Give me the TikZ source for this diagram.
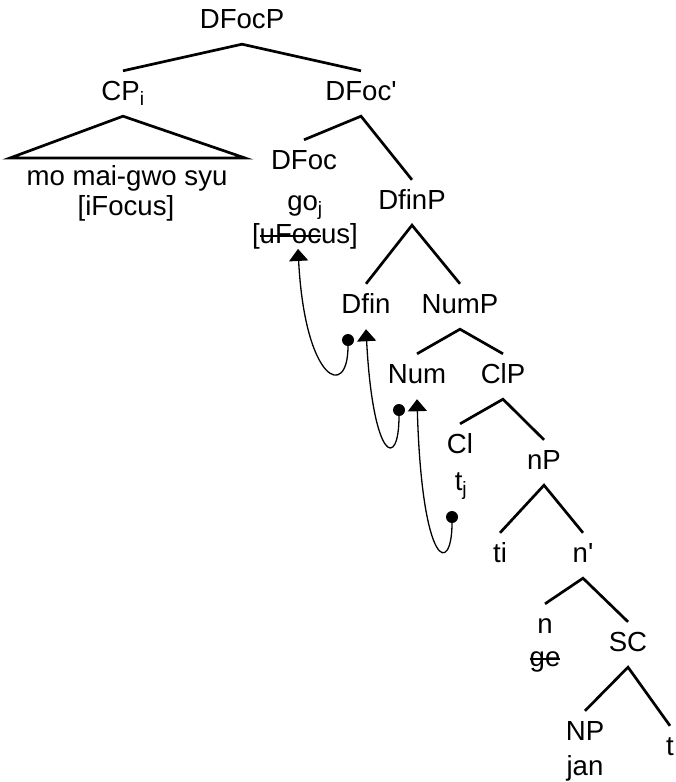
\documentclass[tikz,border=0pt]{standalone}
\usepackage{fontspec}
\newfontfamily\treefont{Liberation Sans}
\usetikzlibrary{arrows.meta,positioning}
% struck-out feature/word
\newcommand{\struck}[1]{\setbox0=\hbox{#1}\rlap{\raisebox{6.5pt}{\rule{\wd0}{1.8pt}}}\box0}
\tikzset{
    cat/.style={
        anchor=base,
        inner sep=0pt,
        text height=29pt,
        text depth=16pt
    },
    lex/.style={
        anchor=base,
        inner sep=0pt
    },
    branch/.style={
        line width=2.7pt,
        line join=miter
    },
    move/.style={
        -{Triangle[length=12pt,width=19pt]},
        line width=1.3pt
    },
    dot/.style={
        circle,
        fill,
        inner sep=0pt,
        minimum size=12pt
    }
}

\begin{document}
\begin{tikzpicture}[x=1pt, y=-1pt, font=\treefont\fontsize{27.6}{32}\selectfont]
\useasboundingbox (0,0) rectangle (675,782);

\node[cat] (dfocp) at (242,28) {DFocP};
\node[cat] (cp) at (123,100) {CP\textsubscript{i}};
\node[cat] (dfocbar) at (361,100) {DFoc'};
\node[lex] (mo) at (127,185) {mo mai-gwo syu};
\node[lex] (ifocus) at (126,215) {[iFocus]};
\node[cat] (dfoc) at (304,169) {DFoc};
\node[lex] (go) at (305,210) {go\textsubscript{j}};
\node[lex] (ufocus) at (305,243) {[\struck{uFoc}us]};
\node[cat] (dfinp) at (412,209) {DfinP};
\node[cat] (dfin) at (366,313) {Dfin};
\node[cat] (nump) at (460,313) {NumP};
\node[cat] (num) at (417,383) {Num};
\node[cat] (clp) at (503,383) {ClP};
\node[cat] (cl) at (460,453) {Cl};
\node[lex] (tj) at (461,490) {t\textsubscript{j}};
\node[cat] (littlenp) at (544,469) {nP};
\node[cat] (ti) at (500,562) {ti};
\node[cat] (nbar) at (583,562) {n'};
\node[cat] (n) at (545,633) {n};
\node[lex] (ge) at (545,666) {\struck{ge}};
\node[cat] (sc) at (628,651) {SC};
\node[cat] (nphrase) at (585,740) {NP};
\node[lex] (jan) at (585,775) {jan};
\node[cat] (t) at (670,755) {t};

% branches
\draw[branch] (cp.north) -- (dfocp.south) -- (dfocbar.north);
\draw[branch] (dfoc.north) -- (dfocbar.south) -- (dfinp.north);
\draw[branch] (dfin.north) -- (dfinp.south) -- (nump.north);
\draw[branch] (num.north) -- (nump.south) -- (clp.north);
\draw[branch] (cl.north) -- (clp.south) -- (littlenp.north);
\draw[branch] (ti.north) -- (littlenp.south) -- (nbar.north);
\draw[branch] (n.north) -- (nbar.south) -- (sc.north);
\draw[branch] (nphrase.north) -- (sc.south) -- (t.north);

% roof over CP
\coordinate (roofl) at (10,158);
\coordinate (roofr) at (245,158);
\draw[branch] (cp.south) -- (roofl) -- (roofr) -- cycle;

% movement
\node[dot] (d1) at (348,340) {};
\node[dot] (d2) at (399,410) {};
\node[dot] (d3) at (452,517) {};
\draw[move] (d1) .. controls +(0,60) and +(7,134) .. ([xshift=-7pt]ufocus.south);
\draw[move] (d2) .. controls +(0,60) and +(7,133) .. (dfin.south);
\draw[move] (d3) .. controls +(0,58) and +(5,172) .. (num.south);

\end{tikzpicture}
\end{document}
